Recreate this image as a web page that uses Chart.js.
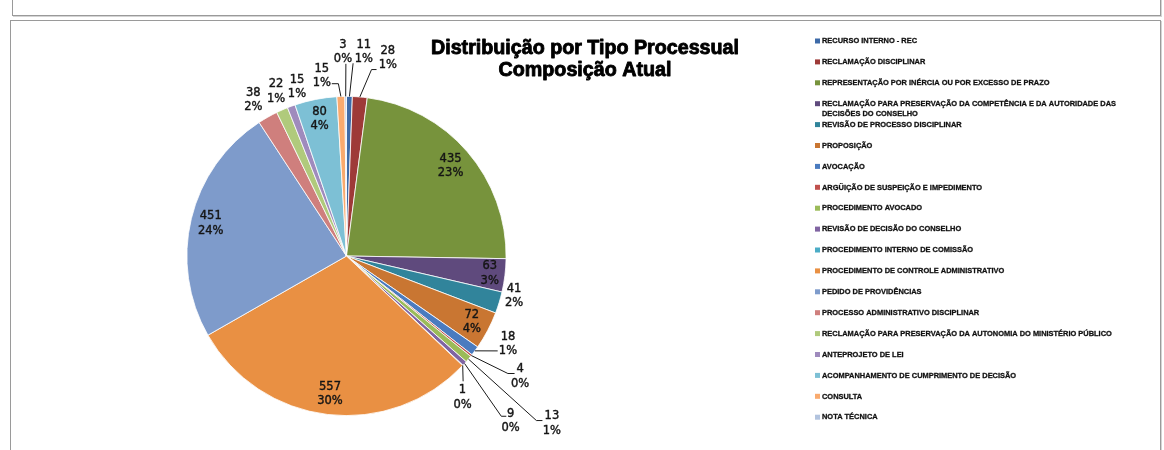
<!DOCTYPE html>
<html><head><meta charset="utf-8">
<script src="https://cdn.jsdelivr.net/npm/chart.js@4.4.1/dist/chart.umd.min.js"></script>
<style>
html,body{margin:0;padding:0;background:#fff;}
#wrap{position:relative;width:1164px;height:450px;overflow:hidden;background:#fff;}
#topPanel{position:absolute;left:12px;top:-6px;width:1149px;height:22px;border:1px solid #9a9a9a;box-sizing:border-box;box-shadow:1px 1px 0 #d4d4d4;}
#mainPanel{position:absolute;left:10px;top:20px;width:1151px;height:460px;border:1px solid #9a9a9a;box-sizing:border-box;box-shadow:1px 1px 0 #d4d4d4;}
#c{position:absolute;left:0;top:0;}
</style>
</head><body>
<div id="wrap">
<div id="topPanel"></div>
<div id="mainPanel"></div>
<canvas id="c" width="1164" height="450"></canvas>
</div>
<script>
// ---- data ----
const titleLines = ['Distribuição por Tipo Processual', 'Composição Atual'];
const categories = [
  'RECURSO INTERNO - REC',
  'RECLAMAÇÃO DISCIPLINAR',
  'REPRESENTAÇÃO POR INÉRCIA OU POR EXCESSO DE PRAZO',
  'RECLAMAÇÃO PARA PRESERVAÇÃO DA COMPETÊNCIA E DA AUTORIDADE DAS DECISÕES DO CONSELHO',
  'REVISÃO DE PROCESSO DISCIPLINAR',
  'PROPOSIÇÃO',
  'AVOCAÇÃO',
  'ARGÜIÇÃO DE SUSPEIÇÃO E IMPEDIMENTO',
  'PROCEDIMENTO AVOCADO',
  'REVISÃO DE DECISÃO DO CONSELHO',
  'PROCEDIMENTO INTERNO DE COMISSÃO',
  'PROCEDIMENTO DE CONTROLE ADMINISTRATIVO',
  'PEDIDO DE PROVIDÊNCIAS',
  'PROCESSO ADMINISTRATIVO DISCIPLINAR',
  'RECLAMAÇÃO PARA PRESERVAÇÃO DA AUTONOMIA DO MINISTÉRIO PÚBLICO',
  'ANTEPROJETO DE LEI',
  'ACOMPANHAMENTO DE CUMPRIMENTO DE DECISÃO',
  'CONSULTA',
  'NOTA TÉCNICA'
];
const values = [11, 28, 435, 63, 41, 72, 18, 4, 13, 9, 1, 557, 451, 38, 22, 15, 80, 15, 3];

// ---- styles ----
const sliceColors = [
  '#3D6AA8', '#9E3A38', '#77933C', '#5F4A7D', '#31849B', '#C97632',
  '#4A7BBF', '#C0504D', '#9BBB59', '#8064A2', '#4BACC6', '#E99043',
  '#7E9BCB', '#CF7F7D', '#B0CA7C', '#9F8BBD', '#7DC0D5', '#F9AA6E', '#B2C3DE'
];
// label placement: angle offset from slice mid (deg), radius factor, leader points relative to label centre
const labelPlacement = [
  {da: 3.8,  f: 1.281, lead: [[-10.7, 11]]},
  {da: 7.0,  f: 1.267, lead: [[-16.3, 11.5], [-11.3, 11.5]]},
  {da: 0,    f: 0.861},
  {da: 0,    f: 0.904},
  {da: -3.6, f: 1.079},
  {da: 0,    f: 0.888},
  {da: -7.9, f: 1.152, lead: [[-10.3, 7]]},
  {da: -3.8, f: 1.324, lead: [[-12.2, -3], [-5.5, -3]]},
  {da: -1.0, f: 1.661, lead: [[-15.5, -3], [-9.5, -3]]},
  {da: 2.8,  f: 1.457, lead: [[-9.3, -4.5], [-4.3, -4.5]]},
  {da: 7.4,  f: 1.147, lead: [[0.6, -16.3]]},
  {da: 0,    f: 0.872},
  {da: 0,    f: 0.875},
  {da: -1.3, f: 1.139},
  {da: 0.6,  f: 1.120},
  {da: 3.9,  f: 1.103},
  {da: 0,    f: 0.876},
  {da: -5.8, f: 1.139, lead: [[16.6, 7.8], [10, 7.8]]},
  {da: -0.7, f: 1.277, lead: [[2.9, 11.6]]}
];

const pieLabels = {
  id: 'pieLabels',
  afterDatasetsDraw(chart) {
    const ctx = chart.ctx;
    const meta = chart.getDatasetMeta(0);
    const data = chart.data.datasets[0].data;
    const total = data.reduce((a, b) => a + b, 0);
    ctx.save();
    ctx.font = '11.5px "DejaVu Sans"';
    ctx.textAlign = 'center';
    ctx.textBaseline = 'middle';
    meta.data.forEach((arc, i) => {
      const p = arc.getProps(['x', 'y', 'startAngle', 'endAngle', 'outerRadius'], true);
      const mid = (p.startAngle + p.endAngle) / 2;
      const pl = labelPlacement[i];
      const a = mid + pl.da * Math.PI / 180;
      const R = p.outerRadius;
      const lx = p.x + Math.cos(a) * R * pl.f;
      const ly = p.y + Math.sin(a) * R * pl.f;
      if (pl.lead) {
        ctx.beginPath();
        ctx.moveTo(p.x + Math.cos(mid) * R, p.y + Math.sin(mid) * R);
        pl.lead.forEach(([dx, dy]) => ctx.lineTo(lx + dx, ly + dy));
        ctx.strokeStyle = '#1a1a1a';
        ctx.lineWidth = 1;
        ctx.stroke();
      }
      const t1 = String(data[i]);
      const t2 = Math.round(data[i] / total * 100) + '%';
      ctx.fillStyle = '#151515';
      ctx.strokeStyle = '#151515';
      ctx.lineWidth = 0.4;
      ctx.fillText(t1, lx, ly - 7.2);
      ctx.strokeText(t1, lx, ly - 7.2);
      ctx.fillText(t2, lx, ly + 7.2);
      ctx.strokeText(t2, lx, ly + 7.2);
    });
    ctx.restore();
  }
};

const titleAndLegend = {
  id: 'titleAndLegend',
  afterDraw(chart) {
    const ctx = chart.ctx;
    ctx.save();
    // title
    ctx.fillStyle = '#000';
    ctx.strokeStyle = '#000';
    ctx.lineWidth = 0.9;
    ctx.lineJoin = 'round';
    ctx.font = 'bold 20px "Liberation Sans", Arial, sans-serif';
    ctx.textAlign = 'center';
    ctx.textBaseline = 'alphabetic';
    const ts = 308 / ctx.measureText(titleLines[0]).width;
    const tBase = [54, 75.5];
    titleLines.forEach((t, k) => {
      ctx.save();
      ctx.translate(585, tBase[k]);
      ctx.scale(ts, 1);
      ctx.fillText(t, 0, 0);
      ctx.strokeText(t, 0, 0);
      ctx.restore();
    });
    // legend
    ctx.font = 'bold 8px "Liberation Sans", Arial, sans-serif';
    ctx.textAlign = 'left';
    ctx.textBaseline = 'middle';
    const ls = 95 / ctx.measureText(chart.data.labels[0]).width;
    const maxW = 305;
    chart.data.labels.forEach((lab, i) => {
      const y = 41 + i * 20.9;
      ctx.fillStyle = chart.data.datasets[0].backgroundColor[i];
      ctx.fillRect(815, y - 2.5, 5, 5);
      const words = lab.split(' ');
      const lines = [];
      let cur = '';
      words.forEach(w => {
        const test = cur ? cur + ' ' + w : w;
        if (ctx.measureText(test).width * ls > maxW && cur) { lines.push(cur); cur = w; }
        else cur = test;
      });
      lines.push(cur);
      ctx.fillStyle = '#111';
      ctx.strokeStyle = '#111';
      ctx.lineWidth = 0.3;
      lines.forEach((ln, k) => {
        ctx.save();
        ctx.translate(822, y + k * 9.8);
        ctx.scale(ls, 1);
        ctx.fillText(ln, 0, 0);
        ctx.strokeText(ln, 0, 0);
        ctx.restore();
      });
    });
    ctx.restore();
  }
};

new Chart(document.getElementById('c'), {
  type: 'pie',
  data: {
    labels: categories,
    datasets: [{
      data: values,
      backgroundColor: sliceColors,
      borderColor: '#ffffff',
      borderWidth: 0.8
    }]
  },
  options: {
    responsive: false,
    devicePixelRatio: 1,
    animation: false,
    layout: {padding: {left: 186, right: 657, top: 96, bottom: 34}},
    plugins: {legend: {display: false}, title: {display: false}, tooltip: {enabled: false}}
  },
  plugins: [pieLabels, titleAndLegend]
});
</script>
</body></html>
